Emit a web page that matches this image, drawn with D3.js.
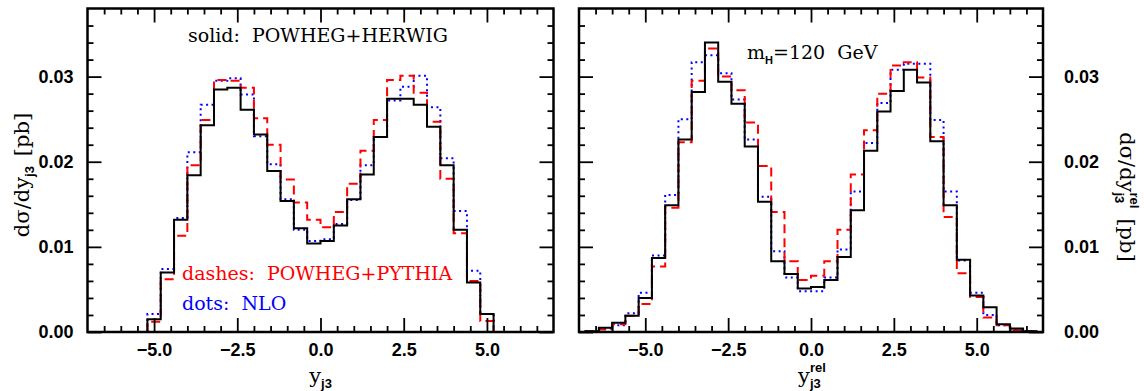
<!DOCTYPE html>
<html>
<head>
<meta charset="utf-8">
<script src="https://cdn.jsdelivr.net/npm/d3@7"></script>
<style>
  body { margin: 0; background: #fff; }
  svg { display: block; }
  .axis text { font-family: "Liberation Sans", Arial, sans-serif; font-weight: bold; font-size: 18px; fill: #000; }
  .axis line { stroke: #000; stroke-width: 1.8; }
  .axis path { display: none; }
  text { white-space: pre; }
</style>
</head>
<body>
<div id="chart"></div>
<script>
////////////////////////////////////////////////////////////////////
////////////////////////////  Data  ////////////////////////////////
const binWidth = 0.4;

// left panel: y_j3, lower bin edges
const edgesLeft = [-5.2, -4.8, -4.4, -4.0, -3.6, -3.2, -2.8, -2.4, -2.0, -1.6, -1.2, -0.8, -0.4,
  0.0, 0.4, 0.8, 1.2, 1.6, 2.0, 2.4, 2.8, 3.2, 3.6, 4.0, 4.4, 4.8];
const herwigLeft = [0.0015, 0.0070, 0.0132, 0.0184, 0.0243, 0.0285, 0.0287, 0.0261, 0.0232, 0.0189, 0.0154, 0.0122, 0.0104,
  0.0107, 0.0125, 0.0156, 0.0185, 0.0229, 0.0274, 0.0274, 0.0267, 0.0241, 0.0196, 0.0120, 0.0058, 0.0021];
const pythiaLeft = [0.0012, 0.0062, 0.0113, 0.0196, 0.0249, 0.0296, 0.0295, 0.0287, 0.0251, 0.0220, 0.0179, 0.0152, 0.0132,
  0.0123, 0.0141, 0.0174, 0.0213, 0.0249, 0.0296, 0.0301, 0.0281, 0.0247, 0.0180, 0.0116, 0.0060, 0.0013];
const nloLeft = [0.0021, 0.0074, 0.0134, 0.0211, 0.0267, 0.0295, 0.0298, 0.0279, 0.0230, 0.0197, 0.0156, 0.0120, 0.0107,
  0.0109, 0.0127, 0.0155, 0.0196, 0.0229, 0.0272, 0.0288, 0.0301, 0.0264, 0.0204, 0.0142, 0.0072, 0.0021];

// right panel: y_j3^rel, lower bin edges
const edgesRight = [-6.8, -6.4, -6.0, -5.6, -5.2, -4.8, -4.4, -4.0, -3.6, -3.2, -2.8, -2.4, -2.0, -1.6, -1.2, -0.8, -0.4,
  0.0, 0.4, 0.8, 1.2, 1.6, 2.0, 2.4, 2.8, 3.2, 3.6, 4.0, 4.4, 4.8, 5.2, 5.6, 6.0, 6.4];
const herwigRight = [0.0001, 0.0005, 0.0011, 0.0019, 0.0040, 0.0087, 0.0149, 0.0226, 0.0282, 0.0340, 0.0294, 0.0268, 0.0218, 0.0153, 0.0083, 0.0068, 0.0051,
  0.0053, 0.0061, 0.0088, 0.0143, 0.0213, 0.0259, 0.0283, 0.0308, 0.0293, 0.0224, 0.0149, 0.0085, 0.0043, 0.0029, 0.0009, 0.0004, 0.0001];
const pythiaRight = [0.0001, 0.0003, 0.0009, 0.0019, 0.0033, 0.0077, 0.0146, 0.0223, 0.0295, 0.0333, 0.0300, 0.0284, 0.0246, 0.0195, 0.0141, 0.0083, 0.0061,
  0.0066, 0.0083, 0.0120, 0.0185, 0.0237, 0.0280, 0.0313, 0.0317, 0.0299, 0.0229, 0.0135, 0.0069, 0.0041, 0.0017, 0.0008, 0.0002, 0.0001];
const nloRight = [0.0001, 0.0004, 0.0008, 0.0022, 0.0046, 0.0090, 0.0161, 0.0250, 0.0317, 0.0325, 0.0304, 0.0273, 0.0226, 0.0159, 0.0095, 0.0064, 0.0048,
  0.0048, 0.0064, 0.0097, 0.0165, 0.0222, 0.0269, 0.0308, 0.0315, 0.0315, 0.0249, 0.0165, 0.0084, 0.0046, 0.0020, 0.0008, 0.0002, 0.0001];

// ticks
const xMajor = [-5, -2.5, 0, 2.5, 5];
const xMinor = [-6.5, -6, -5.5, -4.5, -4, -3.5, -3, -2, -1.5, -1, -0.5, 0.5, 1, 1.5, 2, 3, 3.5, 4, 4.5, 5.5, 6, 6.5];
const yMajor = [0, 0.01, 0.02, 0.03];
const yMinor = [0.002, 0.004, 0.006, 0.008, 0.012, 0.014, 0.016, 0.018, 0.022, 0.024, 0.026, 0.028, 0.032, 0.034, 0.036];

////////////////////////////////////////////////////////////////////
////////////////////////////  Init  ////////////////////////////////
const width = 1144, height = 391;
const SERIF = '"DejaVu Serif", serif';
const SANS = '"Liberation Sans", Arial, sans-serif';

const svg = d3.select("#chart").append("svg").attr("width", width).attr("height", height);

const yTop = 8.5, yBottom = 332;
const majorLen = 14, minorLen = 6;

const series = [
  { key: "nlo", color: "#0000ff", dash: "2,3.5" },
  { key: "pythia", color: "#ff0000", dash: "9,5" },
  { key: "herwig", color: "#000000", dash: null },
];

// text made of pieces (sub / superscripts), laid out left to right
function richText(parent, parts, anchor) {
  const g = parent.append("g");
  let cursor = 0, prevX = 0;
  parts.forEach((p) => {
    const px = p.stack ? prevX : cursor + (p.gap || 0);
    const t = g.append("text")
      .attr("x", px)
      .attr("y", p.dy || 0)
      .attr("font-family", p.family || SERIF)
      .attr("font-size", p.size)
      .attr("font-weight", p.weight || "normal")
      .attr("fill", p.fill || "#000")
      .text(p.text);
    const w = t.node().getComputedTextLength();
    if (p.stack) cursor = Math.max(cursor, px + w);
    else { prevX = px; cursor = px + w; }
  });
  if (anchor === "middle") {
    g.selectAll("text").attr("x", function () { return +d3.select(this).attr("x") - cursor / 2; });
  }
  return g;
}

function stepPoints(edges, vals) {
  const last = edges[edges.length - 1] + binWidth;
  const pts = [[edges[0], 0]];
  vals.forEach((v, i) => pts.push([edges[i], v]));
  pts.push([last, vals[vals.length - 1]]);
  pts.push([last, 0]);
  return pts;
}

function drawPanel(x0, x1, edges, data, labelSide) {
  const x = d3.scaleLinear().domain([-7, 7]).range([x0, x1]);
  const y = d3.scaleLinear().domain([0, 0.038]).range([yBottom, yTop]);
  const g = svg.append("g");

  // histograms
  const line = d3.line().x((d) => x(d[0])).y((d) => y(d[1])).curve(d3.curveStepAfter);
  series.forEach((s) => {
    g.append("path")
      .attr("d", line(stepPoints(edges, data[s.key])))
      .attr("fill", "none")
      .attr("stroke", s.color)
      .attr("stroke-width", 2)
      .attr("stroke-dasharray", s.dash);
  });

  // axes, ticks inward on all four sides
  g.append("g").attr("class", "axis").attr("transform", `translate(0,${yBottom})`)
    .call(d3.axisBottom(x).tickValues(xMajor).tickSize(-majorLen).tickPadding(11).tickFormat(d3.format(".1f")));
  g.append("g").attr("class", "axis").attr("transform", `translate(0,${yBottom})`)
    .call(d3.axisBottom(x).tickValues(xMinor).tickSize(-minorLen).tickFormat(""));
  g.append("g").attr("class", "axis").attr("transform", `translate(0,${yTop})`)
    .call(d3.axisTop(x).tickValues(xMajor).tickSize(-majorLen).tickFormat(""));
  g.append("g").attr("class", "axis").attr("transform", `translate(0,${yTop})`)
    .call(d3.axisTop(x).tickValues(xMinor).tickSize(-minorLen).tickFormat(""));

  const fmtY = d3.format(".2f");
  g.append("g").attr("class", "axis").attr("transform", `translate(${x0},0)`)
    .call(d3.axisLeft(y).tickValues(yMajor).tickSize(-majorLen).tickPadding(14)
      .tickFormat(labelSide === "left" ? fmtY : ""));
  g.append("g").attr("class", "axis").attr("transform", `translate(${x0},0)`)
    .call(d3.axisLeft(y).tickValues(yMinor).tickSize(-minorLen).tickFormat(""));
  g.append("g").attr("class", "axis").attr("transform", `translate(${x1},0)`)
    .call(d3.axisRight(y).tickValues(yMajor).tickSize(-majorLen).tickPadding(21)
      .tickFormat(labelSide === "right" ? fmtY : ""));
  g.append("g").attr("class", "axis").attr("transform", `translate(${x1},0)`)
    .call(d3.axisRight(y).tickValues(yMinor).tickSize(-minorLen).tickFormat(""));

  // frame
  g.append("rect")
    .attr("x", x0).attr("y", yTop)
    .attr("width", x1 - x0).attr("height", yBottom - yTop)
    .attr("fill", "none").attr("stroke", "#000").attr("stroke-width", 2.5);

  return { x, y, g };
}

////////////////////////////////////////////////////////////////////
////////////////////////////  Panels  //////////////////////////////
const left = drawPanel(87.5, 553.5, edgesLeft,
  { herwig: herwigLeft, pythia: pythiaLeft, nlo: nloLeft }, "left");
const right = drawPanel(579, 1043, edgesRight,
  { herwig: herwigRight, pythia: pythiaRight, nlo: nloRight }, "right");

// legend texts
svg.append("text").attr("x", 188).attr("y", 42).attr("font-family", SERIF).attr("font-size", 19)
  .text("solid:  POWHEG+HERWIG");
svg.append("text").attr("x", 182).attr("y", 280).attr("font-family", SERIF).attr("font-size", 19)
  .attr("fill", "#ff0000").text("dashes:  POWHEG+PYTHIA");
svg.append("text").attr("x", 182).attr("y", 310).attr("font-family", SERIF).attr("font-size", 19)
  .attr("fill", "#0000ff").text("dots:  NLO");

richText(svg.append("g").attr("transform", "translate(747,59)"), [
  { text: "m", size: 19 },
  { text: "H", size: 11, family: SANS, weight: "bold", dy: 5 },
  { text: "=120  GeV", size: 19 },
]);

// axis titles
richText(svg.append("g").attr("transform", `translate(${left.x(0)},383)`), [
  { text: "y", size: 21 },
  { text: "j3", size: 13, family: SANS, weight: "bold", dy: 5 },
], "middle");

richText(svg.append("g").attr("transform", `translate(${right.x(0) + 1},383)`), [
  { text: "y", size: 21 },
  { text: "j3", size: 13, family: SANS, weight: "bold", dy: 5 },
  { text: "rel", size: 13, family: SANS, weight: "bold", dy: -11, stack: true },
], "middle");

richText(svg.append("g").attr("transform", "translate(29,175) rotate(-90)"), [
  { text: "d\u03c3/dy", size: 21 },
  { text: "j3", size: 13, family: SANS, weight: "bold", dy: 5 },
  { text: "[pb]", size: 21, gap: 10 },
], "middle");

richText(svg.append("g").attr("transform", "translate(1120,197) rotate(90)"), [
  { text: "d\u03c3/dy", size: 21 },
  { text: "j3", size: 13, family: SANS, weight: "bold", dy: 5 },
  { text: "rel", size: 13, family: SANS, weight: "bold", dy: -10, stack: true },
  { text: "[pb]", size: 21, gap: 10 },
], "middle");
</script>
</body>
</html>
